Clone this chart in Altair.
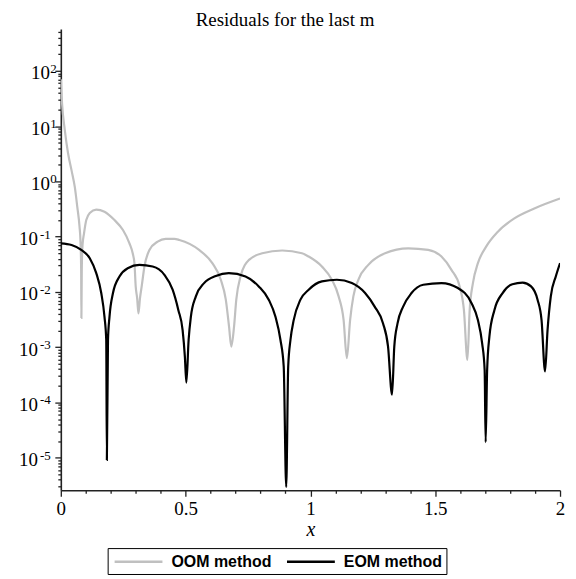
import altair as alt
import pandas as pd

# ---- data (x, log10 of residual) ----
oom_x = [0.000, 0.005, 0.016, 0.029, 0.043, 0.056, 0.066, 0.075, 0.079, 0.0815,
         0.0825, 0.084, 0.087, 0.093, 0.102, 0.116, 0.142, 0.175, 0.215, 0.249,
         0.275, 0.288, 0.295, 0.300, 0.306, 0.311, 0.317, 0.324, 0.335, 0.355,
         0.388, 0.420, 0.455, 0.475, 0.554, 0.607, 0.641, 0.661, 0.674, 0.683,
         0.694, 0.703, 0.720, 0.754, 0.807, 0.887, 0.966, 0.993, 1.046, 1.086,
         1.113, 1.133, 1.146, 1.159, 1.172, 1.192, 1.232, 1.299, 1.392, 1.472,
         1.525, 1.565, 1.598, 1.615, 1.629, 1.638, 1.651, 1.671, 1.704, 1.751,
         1.817, 1.897, 2.000]
oom_log10 = [1.85, 1.41, 0.93, 0.51, 0.20, -0.10, -0.46, -0.82, -1.10, -1.60,
             -2.47, -1.60, -1.15, -0.94, -0.70, -0.57, -0.51, -0.55, -0.70, -0.88,
             -1.12, -1.30, -1.48, -1.90, -2.12, -2.39, -2.12, -1.90, -1.54, -1.24,
             -1.09, -1.04, -1.04, -1.06, -1.24, -1.48, -1.78, -2.14, -2.63, -2.99,
             -2.63, -2.14, -1.72, -1.42, -1.30, -1.25, -1.30, -1.36, -1.54, -1.78,
             -2.08, -2.51, -3.20, -2.51, -2.08, -1.78, -1.51, -1.30, -1.21, -1.24,
             -1.36, -1.60, -1.90, -2.33, -3.23, -2.33, -1.84, -1.48, -1.18, -0.91,
             -0.67, -0.49, -0.31]

eom_x = [0.000, 0.043, 0.082, 0.116, 0.142, 0.162, 0.175, 0.182, 0.1845, 0.189,
         0.195, 0.209, 0.235, 0.268, 0.315, 0.368, 0.415, 0.448, 0.471, 0.488,
         0.497, 0.503, 0.512, 0.521, 0.541, 0.574, 0.621, 0.673, 0.740, 0.793,
         0.833, 0.860, 0.880, 0.893, 0.903, 0.911, 0.920, 0.933, 0.960, 0.993,
         1.046, 1.106, 1.166, 1.219, 1.258, 1.291, 1.311, 1.327, 1.336, 1.349,
         1.371, 1.405, 1.452, 1.525, 1.591, 1.645, 1.671, 1.688, 1.698, 1.702,
         1.708, 1.717, 1.737, 1.770, 1.809, 1.850, 1.884, 1.910, 1.926, 1.940,
         1.950, 1.963, 1.983, 2.000]
eom_log10 = [-1.12, -1.15, -1.24, -1.39, -1.66, -2.02, -2.45, -2.87, -5.04, -2.87,
             -2.45, -2.02, -1.72, -1.57, -1.51, -1.54, -1.69, -1.96, -2.33, -2.69,
             -3.17, -3.64, -2.87, -2.45, -2.08, -1.84, -1.71, -1.66, -1.72, -1.90,
             -2.14, -2.45, -2.87, -3.35, -5.53, -3.35, -2.87, -2.51, -2.14, -1.96,
             -1.81, -1.78, -1.84, -2.02, -2.27, -2.57, -2.99, -3.86, -2.99, -2.57,
             -2.27, -2.02, -1.87, -1.84, -1.93, -2.20, -2.51, -2.93, -3.41, -4.72,
             -3.41, -2.81, -2.33, -2.02, -1.86, -1.83, -1.90, -2.14, -2.51, -3.44,
             -2.69, -2.08, -1.72, -1.48]

series_names = ["OOM method", "EOM method"]
series_colors = ["#c0c0c0", "#000000"]

title_text = "Residuals for the last m"
x_title = "x"
x_ticks = [0.0, 0.1, 0.2, 0.3, 0.4, 0.5, 0.6, 0.7, 0.8, 0.9, 1.0,
           1.1, 1.2, 1.3, 1.4, 1.5, 1.6, 1.7, 1.8, 1.9, 2.0]
y_powers = [-5, -4, -3, -2, -1, 0, 1, 2]
y_ticks = [k * 10.0 ** n for n in range(-6, 3) for k in range(1, 10)
           if 2.57e-6 <= k * 10.0 ** n <= 575]

rows = []
for xv, lv in zip(oom_x, oom_log10):
    rows.append({"series": series_names[0], "x": xv, "r": 10 ** lv})
for xv, lv in zip(eom_x, eom_log10):
    rows.append({"series": series_names[1], "x": xv, "r": 10 ** lv})
df = pd.DataFrame(rows)

lab_df = pd.DataFrame({"r": [10.0 ** p for p in y_powers],
                       "base": ["10"] * len(y_powers),
                       "exp": [str(p) for p in y_powers],
                       "neg": [p < 0 for p in y_powers]})

SERIF = "Liberation Serif, Times New Roman, Times, serif"
SANS = "Liberation Sans, Arial, Helvetica, sans-serif"

is_pow = "abs(log(datum.value)/LN10 - round(log(datum.value)/LN10)) < 1e-6"
is_half = "abs(datum.value*2 - round(datum.value*2)) < 1e-6"
x_label = "(" + is_half + ") ? format(datum.value, '~g') : ''"

x_scale = alt.Scale(domain=[0, 2], nice=False, zero=False)
y_scale = alt.Scale(type="log", domain=[2.57e-6, 575], nice=False)

x_enc = alt.X("x:Q", title=x_title, scale=x_scale,
              axis=alt.Axis(values=x_ticks, labelExpr=x_label, labelFlush=False,
                            labelOverlap=False, grid=False,
                            tickSize={"condition": {"test": is_half, "value": 6}, "value": 3},
                            labelFont=SERIF, labelFontSize=19, labelColor="black",
                            labelPadding=3, titleFont=SERIF, titleFontSize=20,
                            titleFontStyle="italic", titleFontWeight="normal",
                            titleColor="black", titlePadding=1,
                            domainColor="#222", domainWidth=1.6,
                            tickColor="#222", tickWidth=1.3))
y_enc = alt.Y("r:Q", title=None, scale=y_scale,
              axis=alt.Axis(values=y_ticks, labels=False, grid=False,
                            tickSize={"condition": {"test": is_pow, "value": 6}, "value": 3},
                            domainColor="#222", domainWidth=1.6,
                            tickColor="#222", tickWidth=1.3))
color_enc = alt.Color("series:N",
                      scale=alt.Scale(domain=series_names, range=series_colors),
                      legend=alt.Legend(title=None, orient="none", legendX=47, legendY=521,
                                        direction="horizontal", columns=2,
                                        symbolType="M-3,0H3", symbolSize=256,
                                        symbolStrokeWidth=2.5, symbolOffset=17.5,
                                        labelFont=SANS, labelFontWeight="bold",
                                        labelFontSize=16, labelColor="black",
                                        strokeColor="black", fillColor="white",
                                        padding=4, columnPadding=10, labelOffset=23.5))

base = alt.Chart(df)
gray = base.transform_filter(alt.datum.series == series_names[0]).mark_line(
    strokeWidth=2.2, clip=True, interpolate="monotone").encode(
    x=x_enc, y=y_enc, color=color_enc, order="x:Q")
black = base.transform_filter(alt.datum.series == series_names[1]).mark_line(
    strokeWidth=2.2, clip=True, interpolate="monotone").encode(
    x=x_enc, y=y_enc, color=color_enc, order="x:Q")

# y tick labels: "10" with a raised exponent
lab = alt.Chart(lab_df)
y_base_neg = lab.transform_filter("datum.neg").mark_text(
    font=SERIF, fontSize=19, align="right", baseline="alphabetic", dy=8.5,
    color="black").encode(x=alt.value(-23), y=alt.Y("r:Q", scale=y_scale), text="base:N")
y_base_pos = lab.transform_filter("!datum.neg").mark_text(
    font=SERIF, fontSize=19, align="right", baseline="alphabetic", dy=8.5,
    color="black").encode(x=alt.value(-11), y=alt.Y("r:Q", scale=y_scale), text="base:N")
y_exp_neg = lab.transform_filter("datum.neg").mark_text(
    font=SERIF, fontSize=13, align="left", baseline="alphabetic", dy=2,
    color="black").encode(x=alt.value(-21), y=alt.Y("r:Q", scale=y_scale), text="exp:N")
y_exp_pos = lab.transform_filter("!datum.neg").mark_text(
    font=SERIF, fontSize=13, align="left", baseline="alphabetic", dy=2,
    color="black").encode(x=alt.value(-10.5), y=alt.Y("r:Q", scale=y_scale), text="exp:N")

title = alt.Chart(pd.DataFrame({"t": [title_text]})).mark_text(
    font=SERIF, fontSize=19, align="center", baseline="alphabetic",
    color="black").encode(x=alt.value(225), y=alt.value(-3), text="t:N")

chart = alt.layer(gray, black, y_base_neg, y_base_pos, y_exp_neg, y_exp_pos, title).properties(
    width=501, height=463,
    autosize=alt.AutoSizeParams(type="none"),
    padding={"left": 53, "top": 20, "right": 8, "bottom": 86},
).configure_view(stroke=None)

chart.save("out.html", embed_options={"renderer": "svg", "actions": False})
